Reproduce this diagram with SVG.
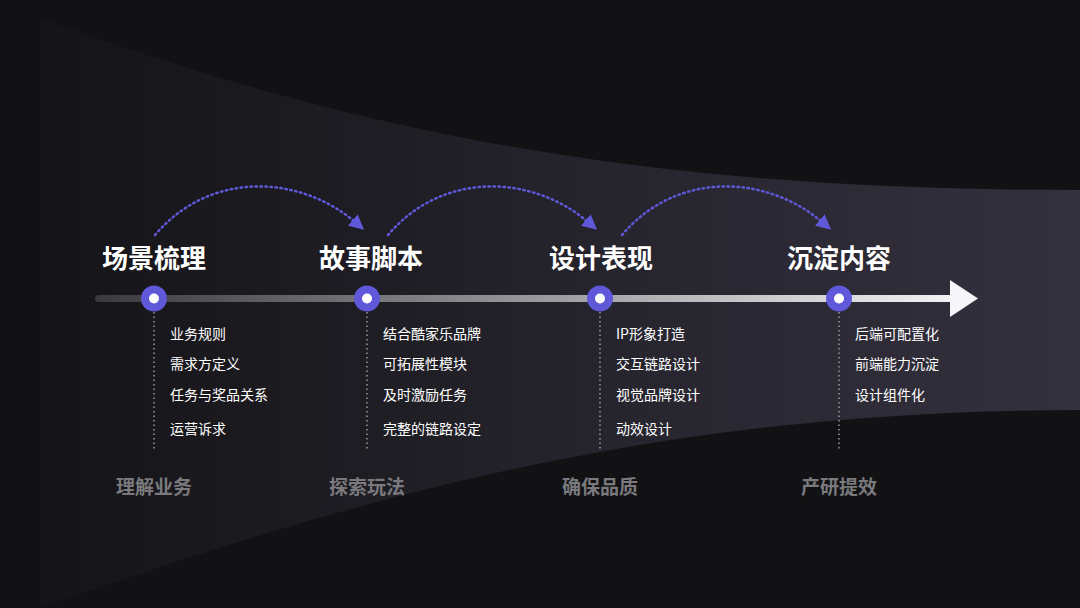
<svg xmlns="http://www.w3.org/2000/svg" width="1080" height="608" viewBox="0 0 1080 608">
<defs>
<linearGradient id="bg" x1="0" y1="0" x2="1" y2="0"><stop offset="0" stop-color="#151417"/><stop offset="1" stop-color="#34313f"/></linearGradient>
<linearGradient id="ln" x1="95" y1="0" x2="960" y2="0" gradientUnits="userSpaceOnUse"><stop offset="0" stop-color="#3a3a3e"/><stop offset="1" stop-color="#f4f4f6"/></linearGradient>
<marker id="ah" viewBox="0 0 10 10" refX="2" refY="5" markerWidth="15" markerHeight="15" markerUnits="userSpaceOnUse" orient="auto"><path d="M0,0 L10,5 L0,10 z" fill="#5f58d8"/></marker>
</defs>
<style>
.t{font-family:"Noto Sans CJK SC",sans-serif;font-weight:700;font-size:26px;fill:#fff}
.s{font-family:"Noto Sans CJK SC",sans-serif;font-size:14px;fill:#fff}
.b{font-family:"Noto Sans CJK SC",sans-serif;font-weight:700;font-size:19px;fill:#7a7a7e}
.arc{fill:none;stroke:#5f58d8;stroke-width:2.5;stroke-dasharray:1.5 3.5;stroke-linecap:round}
.v{stroke:#9a9aa0;stroke-width:1.5;stroke-dasharray:1.5 3}
</style>
<rect width="1080" height="608" fill="#121214"/>
<path d="M40,18 C400,150 700,190 1080,190 L1080,410 C700,410 400,480 40,608 Z" fill="url(#bg)"/>
<g id="connectors">
<rect x="95" y="295" width="860" height="7" rx="3.5" fill="url(#ln)"/>
<path d="M950,280 L978,298.5 L950,317 Z" fill="#f6f6f8"/>
<path class="arc" d="M155,235 C210,170 300,175 355,222" marker-end="url(#ah)"/>
<path class="arc" d="M388,235 C443,170 533,175 588,222" marker-end="url(#ah)"/>
<path class="arc" d="M622,235 C677,170 767,175 822,222" marker-end="url(#ah)"/>
<line class="v" x1="154" y1="312" x2="154" y2="450"/>
<line class="v" x1="367" y1="312" x2="367" y2="450"/>
<line class="v" x1="600" y1="312" x2="600" y2="450"/>
<line class="v" x1="839" y1="312" x2="839" y2="450"/>
</g>
<g id="n1"><circle cx="154" cy="298.5" r="13" fill="#5f58d8"/><circle cx="154" cy="298.5" r="5" fill="#fff"/>
<text class="t" x="154" y="268" text-anchor="middle">场景梳理</text>
<text class="s" x="170" y="339">业务规则</text><text class="s" x="170" y="369">需求方定义</text><text class="s" x="170" y="400">任务与奖品关系</text><text class="s" x="170" y="434">运营诉求</text>
<text class="b" x="154" y="494" text-anchor="middle">理解业务</text></g>
<g id="n2"><circle cx="367" cy="298.5" r="13" fill="#5f58d8"/><circle cx="367" cy="298.5" r="5" fill="#fff"/>
<text class="t" x="371" y="268" text-anchor="middle">故事脚本</text>
<text class="s" x="383" y="339">结合酷家乐品牌</text><text class="s" x="383" y="369">可拓展性模块</text><text class="s" x="383" y="400">及时激励任务</text><text class="s" x="383" y="434">完整的链路设定</text>
<text class="b" x="367" y="494" text-anchor="middle">探索玩法</text></g>
<g id="n3"><circle cx="600" cy="298.5" r="13" fill="#5f58d8"/><circle cx="600" cy="298.5" r="5" fill="#fff"/>
<text class="t" x="601" y="268" text-anchor="middle">设计表现</text>
<text class="s" x="616" y="339">IP形象打造</text><text class="s" x="616" y="369">交互链路设计</text><text class="s" x="616" y="400">视觉品牌设计</text><text class="s" x="616" y="434">动效设计</text>
<text class="b" x="600" y="494" text-anchor="middle">确保品质</text></g>
<g id="n4"><circle cx="839" cy="298.5" r="13" fill="#5f58d8"/><circle cx="839" cy="298.5" r="5" fill="#fff"/>
<text class="t" x="839" y="268" text-anchor="middle">沉淀内容</text>
<text class="s" x="855" y="339">后端可配置化</text><text class="s" x="855" y="369">前端能力沉淀</text><text class="s" x="855" y="400">设计组件化</text>
<text class="b" x="839" y="494" text-anchor="middle">产研提效</text></g>
</svg>
